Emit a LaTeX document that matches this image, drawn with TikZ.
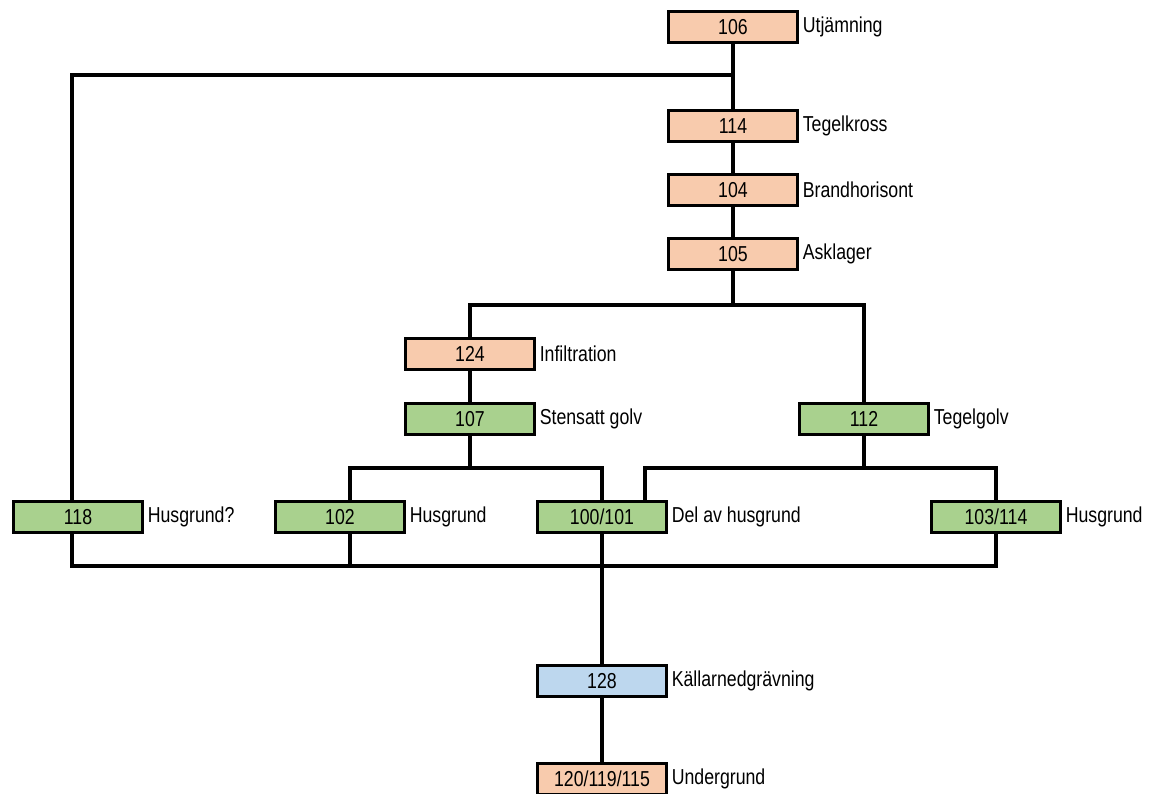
\documentclass[tikz,border=0pt]{standalone}
\usepackage{fontspec}
\setmainfont{Liberation Sans}[FakeStretch=0.82]
\usetikzlibrary{positioning}

\definecolor{boxtan}{HTML}{F8CBAD}
\definecolor{boxgreen}{HTML}{A9D18E}
\definecolor{boxblue}{HTML}{BDD7EE}

\begin{document}
\begin{tikzpicture}[x=0.02cm, y=-0.02cm,
    every node/.style={font=\fontsize{12.3}{14}\selectfont},
    box/.style={draw, line width=1.9pt, minimum width=2.57cm, minimum height=0.61cm, inner sep=0pt},
    tanbox/.style={box, fill=boxtan},
    greenbox/.style={box, fill=boxgreen},
    bluebox/.style={box, fill=boxblue},
    lbl/.style={anchor=west, inner sep=0pt},
    link/.style={line width=1.9pt}]
    \useasboundingbox (0,0) rectangle (1150,794);

    % units in the reference
    \node[tanbox] (b106) at (733,27) {106};
    \node[tanbox] (b114) at (733,126) {114};
    \node[tanbox] (b104) at (733,190) {104};
    \node[tanbox] (b105) at (733,254) {105};
    \node[tanbox] (b124) at (470,354) {124};
    \node[greenbox] (b107) at (470,419) {107};
    \node[greenbox] (b112) at (864,419) {112};
    \node[greenbox] (b118) at (78,517) {118};
    \node[greenbox] (b102) at (340,517) {102};
    \node[greenbox] (b100) at (602,517) {100/101};
    \node[greenbox] (b103) at (996,517) {103/114};
    \node[bluebox] (b128) at (602,681) {128};
    \node[tanbox] (b120) at (602,779) {120/119/115};

    % descriptions
    \node[lbl, right=2pt of b106] (t106) {Utjämning};
    \node[lbl, right=2pt of b114] (t114) {Tegelkross};
    \node[lbl, right=2pt of b104] (t104) {Brandhorisont};
    \node[lbl, right=2pt of b105] (t105) {Asklager};
    \node[lbl, right=2pt of b124] (t124) {Infiltration};
    \node[lbl, right=2pt of b107] (t107) {Stensatt golv};
    \node[lbl, right=2pt of b112] (t112) {Tegelgolv};
    \node[lbl, right=2pt of b118] (t118) {Husgrund?};
    \node[lbl, right=2pt of b102] (t102) {Husgrund};
    \node[lbl, right=2pt of b100] (t100) {Del av husgrund};
    \node[lbl, right=2pt of b103] (t103) {Husgrund};
    \node[lbl, right=2pt of b128] (t128) {Källarnedgrävning};
    \node[lbl, right=2pt of b120] (t120) {Undergrund};

    % junctions
    \coordinate (top) at (733,75);
    \coordinate (split1) at (733,305);
    \coordinate (split2) at (470,468);
    \coordinate (split3) at (864,468);
    \coordinate (bottom) at (602,566);

    \draw[link] (b106.south) -- (b114.north);
    \draw[link] (top) -| ([xshift=-0.12cm]b118.north);
    \draw[link] (b114.south) -- (b104.north);
    \draw[link] (b104.south) -- (b105.north);
    \draw[link] (b105.south) -- (split1);
    \draw[link] (b124.north) |- (split1) -| (b112.north);
    \draw[link] (b124.south) -- (b107.north);
    \draw[link] (b107.south) -- (split2);
    \draw[link] ([xshift=0.2cm]b102.north) |- (split2) -| (b100.north);
    \draw[link] (b112.south) -- (split3);
    \draw[link] ([xshift=0.86cm]b100.north) |- (split3) -| (b103.north);
    \draw[link] ([xshift=-0.12cm]b118.south) |- (bottom) -| (b103.south);
    \draw[link] ([xshift=0.2cm]b102.south) -- ([xshift=0.2cm]b102.south |- bottom);
    \draw[link] (b100.south) -- (b128.north);
    \draw[link] (b128.south) -- (b120.north);
\end{tikzpicture}
\end{document}
